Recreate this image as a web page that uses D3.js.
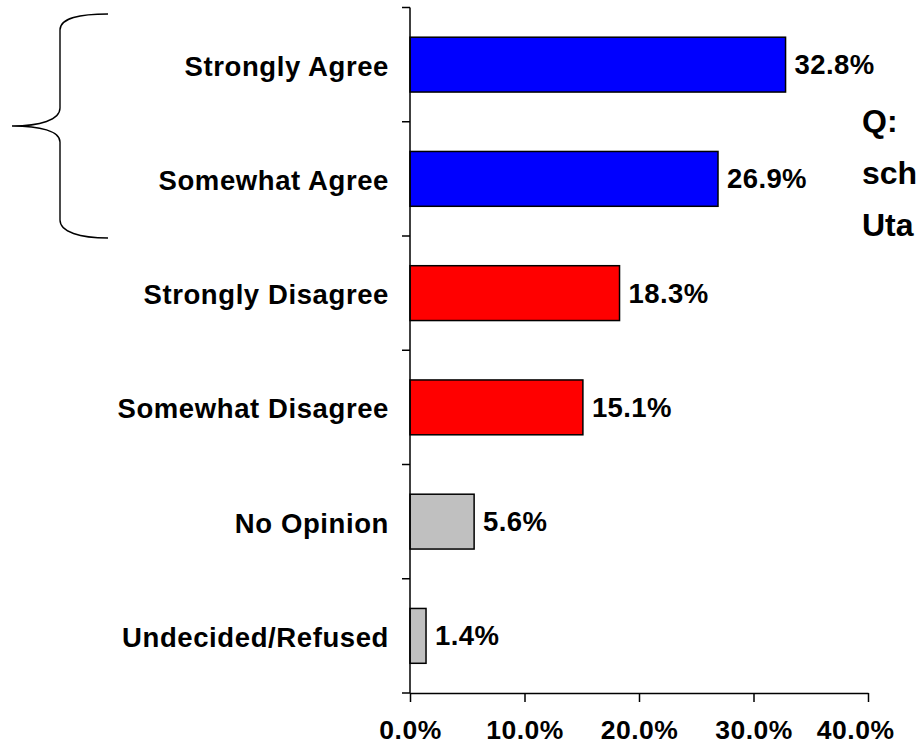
<!DOCTYPE html>
<html>
<head>
<meta charset="utf-8">
<script src="https://cdn.jsdelivr.net/npm/d3@7/dist/d3.min.js"></script>
<style>
  html, body { margin: 0; padding: 0; background: #fff; overflow: hidden; }
  svg { display: block; }
  text { font-family: "Liberation Sans", Arial, sans-serif; font-weight: bold; fill: #000; }
</style>
</head>
<body>
<svg id="chart" width="921" height="746"></svg>
<script>
// ---- data ----
const categories = ["Strongly Agree", "Somewhat Agree", "Strongly Disagree", "Somewhat Disagree", "No Opinion", "Undecided/Refused"];
const values = [32.8, 26.9, 18.3, 15.1, 5.6, 1.4];
const barColors = ["#0000FF", "#0000FF", "#FF0000", "#FF0000", "#C0C0C0", "#C0C0C0"];
const xTicks = [0, 10, 20, 30, 40];
const questionLines = ["Q:", "sch", "Uta"];

// ---- layout ----
const svg = d3.select("#chart");
const plotLeft = 410, plotRight = 868, plotTop = 7.5, plotBottom = 693;

const x = d3.scaleLinear().domain([0, 40]).range([plotLeft, plotRight]);
const y = d3.scaleBand().domain(categories).range([plotTop, plotBottom]).paddingInner(0.52).paddingOuter(0.26);
const yEdges = d3.scaleBand().domain(categories).range([plotTop, plotBottom]).padding(0);

const fmt = v => v.toFixed(1) + "%";

// bars
svg.append("g").selectAll("rect")
  .data(categories)
  .join("rect")
  .attr("x", x(0))
  .attr("y", d => y(d))
  .attr("width", (d, i) => x(values[i]) - x(0))
  .attr("height", y.bandwidth())
  .attr("fill", (d, i) => barColors[i])
  .attr("stroke", "#000")
  .attr("stroke-width", 1.5);

// value labels
svg.append("g").selectAll("text")
  .data(categories)
  .join("text")
  .attr("x", (d, i) => x(values[i]) + 9)
  .attr("y", d => y(d) + y.bandwidth() / 2 + 9.5)
  .style("font-size", "27.5px")
  .style("letter-spacing", "0.4px")
  .text((d, i) => fmt(values[i]));

// category labels
svg.append("g").selectAll("text")
  .data(categories)
  .join("text")
  .attr("x", 389)
  .attr("y", d => y(d) + y.bandwidth() / 2 + 11)
  .attr("text-anchor", "end")
  .style("font-size", "27.5px")
  .style("letter-spacing", "0.6px")
  .text(d => d);

// y axis line with ticks at band edges
const yAxisG = svg.append("g");
yAxisG.append("line")
  .attr("x1", plotLeft).attr("x2", plotLeft)
  .attr("y1", plotTop).attr("y2", plotBottom)
  .attr("stroke", "#000").attr("stroke-width", 1.5);
const edges = categories.map(c => yEdges(c)).concat([plotBottom]);
yAxisG.selectAll("line.tk")
  .data(edges)
  .join("line")
  .attr("class", "tk")
  .attr("x1", plotLeft - 8).attr("x2", plotLeft)
  .attr("y1", d => d).attr("y2", d => d)
  .attr("stroke", "#000").attr("stroke-width", 1.5);

// x axis
const xAxis = d3.axisBottom(x).tickValues(xTicks).tickSize(9).tickSizeOuter(0).tickPadding(4).tickFormat(d => fmt(d));
const xg = svg.append("g").attr("transform", `translate(0,${plotBottom})`).call(xAxis);
xg.select(".domain").attr("stroke", "#000").attr("stroke-width", 1.5);
xg.selectAll(".tick line").attr("stroke", "#000").attr("stroke-width", 1.5);
xg.selectAll(".tick text")
  .attr("y", 46).attr("dy", 0)
  .style("font-size", "26.5px")
  .style("letter-spacing", "0.5px")
  .style("font-family", "'Liberation Sans', Arial, sans-serif")
  .style("font-weight", "bold")
  .attr("fill", "#000");
xg.selectAll(".tick").filter(d => d === 40).select("text").attr("text-anchor", "end").attr("x", 26);

// brace
const brace = d3.path();
brace.moveTo(108, 14);
brace.bezierCurveTo(80, 14, 60, 18, 60, 30);
brace.lineTo(60, 108);
brace.bezierCurveTo(60, 120, 40, 126, 12, 126);
brace.bezierCurveTo(40, 126, 60, 131, 60, 142);
brace.lineTo(60, 220);
brace.bezierCurveTo(60, 232, 80, 238, 108, 238);
svg.append("path").attr("d", brace.toString())
  .attr("fill", "none").attr("stroke", "#000").attr("stroke-width", 1.4);

// question text (clipped at page edge)
svg.append("g").selectAll("text")
  .data(questionLines)
  .join("text")
  .attr("x", 862)
  .attr("y", (d, i) => 132 + i * 52)
  .style("font-size", "32px")
  .text(d => d);
</script>
</body>
</html>
